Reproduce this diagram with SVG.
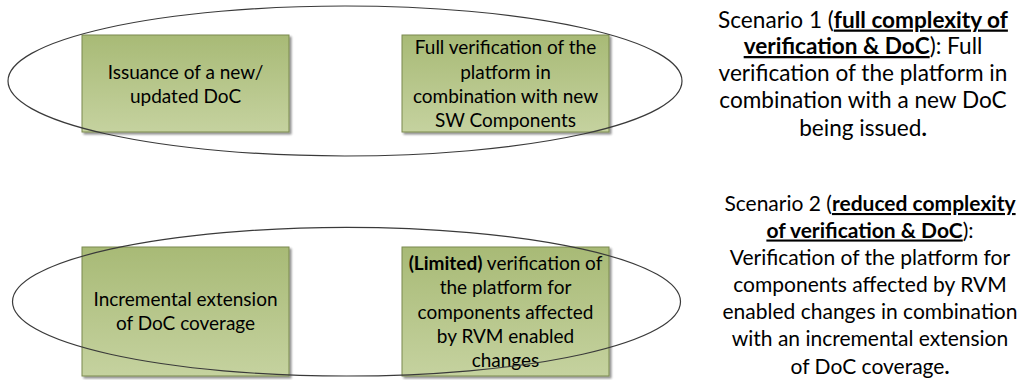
<svg xmlns="http://www.w3.org/2000/svg" width="1023" height="380" viewBox="0 0 1023 380">
  <defs>
    <linearGradient id="boxfill" x1="0" y1="0" x2="0" y2="1">
      <stop offset="0" stop-color="#a8ba76"/>
      <stop offset="1" stop-color="#c5d29f"/>
    </linearGradient>
    <filter id="shadow" x="-10%" y="-10%" width="125%" height="125%">
      <feGaussianBlur in="SourceAlpha" stdDeviation="1.2"/>
      <feOffset dx="2" dy="2" result="b"/>
      <feComponentTransfer><feFuncA type="linear" slope="0.45"/></feComponentTransfer>
      <feMerge><feMergeNode/><feMergeNode in="SourceGraphic"/></feMerge>
    </filter>
  </defs>
  <style>
    .box { fill: url(#boxfill); stroke: #7b8a4f; stroke-width: 1; filter: url(#shadow); }
    .bt { font-family: Lato, "Liberation Sans", sans-serif; font-size: 19px; fill: #000; text-anchor: middle; }
    .st { font-family: Lato, "Liberation Sans", sans-serif; font-size: 21px; fill: #000; text-anchor: middle; }
    .s1 { font-size: 22.6px; }
    .u { font-weight: bold; text-decoration: underline; }
    .b { font-weight: bold; }
    .ell { fill: none; stroke: #3a3a3a; stroke-width: 1.2; }
  </style>
  <rect width="1023" height="380" fill="#ffffff"/>

  <g id="node-issuance">
    <rect class="box" x="82" y="35" width="207" height="97"/>
    <text class="bt" x="185.5" y="78.5">Issuance of a new/</text>
    <text class="bt" x="185.5" y="103">updated DoC</text>
  </g>

  <g id="node-full-verification">
    <rect class="box" x="402" y="35" width="207" height="97"/>
    <text class="bt" x="505.5" y="54">Full verification of the</text>
    <text class="bt" x="505.5" y="78.5">platform in</text>
    <text class="bt" x="505.5" y="103">combination with new</text>
    <text class="bt" x="505.5" y="127">SW Components</text>
  </g>

  <g id="node-incremental">
    <rect class="box" x="82" y="247" width="207" height="129"/>
    <text class="bt" x="185.5" y="305.5">Incremental extension</text>
    <text class="bt" x="185.5" y="330">of DoC coverage</text>
  </g>

  <g id="node-limited-verification">
    <rect class="box" x="402" y="247" width="207" height="129"/>
    <text class="bt" x="505.5" y="269.5"><tspan class="b">(Limited)</tspan> verification of</text>
    <text class="bt" x="505.5" y="294">the platform for</text>
    <text class="bt" x="505.5" y="318.5">components affected</text>
    <text class="bt" x="505.5" y="343">by RVM enabled</text>
    <text class="bt" x="505.5" y="367">changes</text>
  </g>

  <g id="connectors">
    <ellipse id="scenario1-group" class="ell" cx="345" cy="81" rx="337" ry="75"/>
    <ellipse id="scenario2-group" class="ell" cx="346.5" cy="301.7" rx="334" ry="74.3"/>
  </g>

  <g id="node-scenario1">
    <text class="st s1" x="863" y="27.5">Scenario 1 (<tspan class="u">full complexity of</tspan></text>
    <text class="st s1" x="863" y="54"><tspan class="u">verification &amp; DoC</tspan>): Full</text>
    <text class="st s1" x="863" y="81">verification of the platform in</text>
    <text class="st s1" x="863" y="108">combination with a new DoC</text>
    <text class="st s1" x="863" y="135.5">being issued<tspan class="b">.</tspan></text>
  </g>

  <g id="node-scenario2">
    <text class="st" x="870" y="211">Scenario 2 (<tspan class="u">reduced complexity</tspan></text>
    <text class="st" x="870" y="237.5"><tspan class="u">of verification &amp; DoC</tspan>):</text>
    <text class="st" x="870" y="264.5">Verification of the platform for</text>
    <text class="st" x="870" y="291.5">components affected by RVM</text>
    <text class="st" x="870" y="319">enabled changes in combination</text>
    <text class="st" x="870" y="346">with an incremental extension</text>
    <text class="st" x="870" y="373.5">of DoC coverage<tspan class="b">.</tspan></text>
  </g>
</svg>
